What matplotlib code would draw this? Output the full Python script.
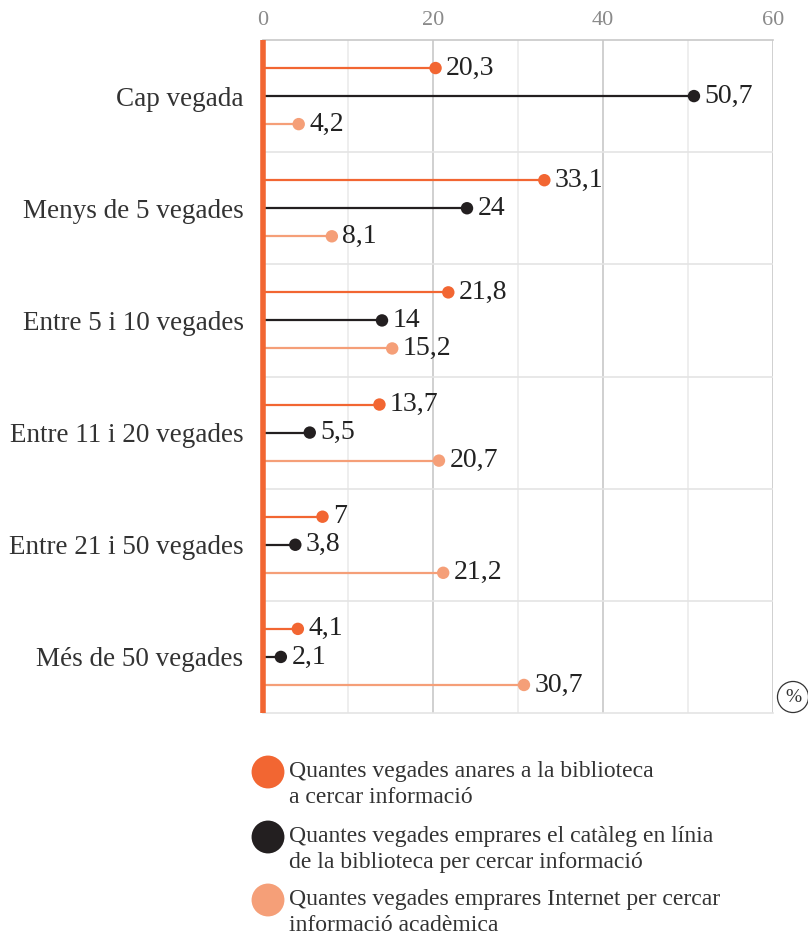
import numpy as np
import matplotlib.pyplot as plt

# dades
categories = ['Cap vegada', 'Menys de 5 vegades', 'Entre 5 i 10 vegades',
              'Entre 11 i 20 vegades', 'Entre 21 i 50 vegades', 'Més de 50 vegades']
biblioteca = [20.3, 33.1, 21.8, 13.7, 7, 4.1]
cataleg = [50.7, 24, 14, 5.5, 3.8, 2.1]
internet = [4.2, 8.1, 15.2, 20.7, 21.2, 30.7]
series_labels = ['Quantes vegades anares a la biblioteca\na cercar informació',
                 'Quantes vegades emprares el catàleg en línia\nde la biblioteca per cercar informació',
                 'Quantes vegades emprares Internet per cercar\ninformació acadèmica']
x_ticks = [0, 20, 40, 60]

colors = ['#f26632', '#231f20', '#f59f78']
font = 'Liberation Serif'

W, H = 808, 934
fig = plt.figure(figsize=(W / 100, H / 100), dpi=100)
ax = fig.add_axes([263 / W, 1 - 713 / H, 510 / W, 673 / H])

# graella
for x in range(10, 61, 10):
    ax.axvline(x, color='#c8c8c8' if x % 20 == 0 else '#ebebeb', lw=1.2, zorder=0)
for y in range(1, 6):
    ax.axhline(y, color='#e4e4e4', lw=1.2, zorder=0)

offsets = [-0.25, 0, 0.25]
for s, vals in enumerate([biblioteca, cataleg, internet]):
    ys = np.arange(len(categories)) + 0.5 + offsets[s]
    ax.hlines(ys, 0, vals, color=colors[s], lw=1.6, zorder=2)
    ax.scatter(vals, ys, s=80, color=colors[s], zorder=3, edgecolors='none')
    for v, y in zip(vals, ys):
        txt = f'{v:g}'.replace('.', ',')
        ax.annotate(txt, (v, y), xytext=(7.5, 0), textcoords='offset points',
                    va='center', ha='left', fontsize=20, color='#222222', family=font)

ax.axvline(0, color=colors[0], lw=4, zorder=4, clip_on=False, solid_capstyle='butt')

ax.set_xlim(0, 60)
ax.set_ylim(6, 0)
ax.set_xticks(x_ticks)
ax.xaxis.tick_top()
ax.tick_params(axis='x', length=0, pad=7, labelsize=16, labelcolor='#8a8a8a')
for lab in ax.get_xticklabels():
    lab.set_family(font)
ax.set_yticks(np.arange(len(categories)) + 0.5)
ax.set_yticklabels(categories, fontsize=19.5, color='#333333', family=font)
ax.tick_params(axis='y', length=0, pad=14)

for side in ['left', 'right']:
    ax.spines[side].set_visible(False)
ax.spines['top'].set_color('#c8c8c8')
ax.spines['bottom'].set_color('#e4e4e4')
ax.spines['top'].set_linewidth(1.2)
ax.spines['bottom'].set_linewidth(1.2)

# llegenda i símbol %
lax = fig.add_axes([0, 0, 1, 1])
lax.set_xlim(0, W)
lax.set_ylim(H, 0)
lax.axis('off')
lax.scatter([793], [697], s=500, facecolors='none', edgecolors='#333333', lw=0.9)
lax.text(793, 697, '%', ha='center', va='center', fontsize=14, color='#333333', family=font)

leg_y = [772, 837, 900]
for s in range(3):
    lax.scatter([268], [leg_y[s]], s=560, color=colors[s], edgecolors='none')
    lax.text(289, leg_y[s] - 11, series_labels[s], ha='left', va='top', fontsize=17,
             color='#333333', family=font, linespacing=1.3)

fig.savefig('out.png', dpi=100)
